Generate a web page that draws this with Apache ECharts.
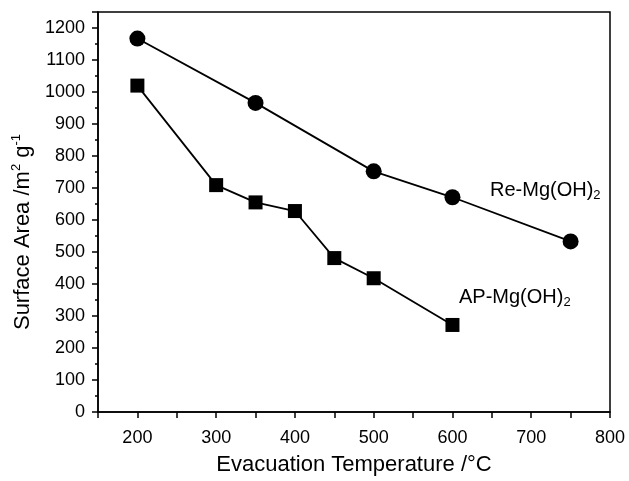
<!DOCTYPE html>
<html>
<head>
<meta charset="utf-8">
<script src="https://cdn.jsdelivr.net/npm/echarts@6/dist/echarts.min.js"></script>
<style>html,body{margin:0;padding:0;background:#fff}#c{width:629px;height:481px}</style>
</head>
<body>
<div id="c"></div>
<script>
const reTemps = [200, 350, 500, 600, 750];
const reArea = [1167, 966, 752, 671, 533];
const apTemps = [200, 300, 350, 400, 450, 500, 600];
const apArea = [1020, 709, 655, 628, 481, 418, 272];
const xTicks = [200, 300, 400, 500, 600, 700, 800];
const yTicks = [0, 100, 200, 300, 400, 500, 600, 700, 800, 900, 1000, 1100, 1200];

const FONT = 'Liberation Sans, Arial, sans-serif';
const chart = echarts.init(document.getElementById('c'), null, {renderer: 'canvas'});
const axisCommon = {
  axisLine: {show: true, onZero: false, lineStyle: {color: '#000', width: 1.5}},
  axisTick: {show: true, inside: false, length: 6, lineStyle: {color: '#000', width: 1.5}},
  minorTick: {show: true, splitNumber: 2, length: 3, lineStyle: {color: '#000', width: 1.5}},
  splitLine: {show: false},
  axisLabel: {color: '#000', fontFamily: FONT, fontSize: 18}
};
chart.setOption({
  animation: false,
  backgroundColor: '#fff',
  grid: {left: 98, right: 19, top: 12, bottom: 68, show: true, borderColor: '#000', borderWidth: 1.5, backgroundColor: 'transparent'},
  xAxis: Object.assign({}, axisCommon, {
    type: 'value', min: 150, max: 800, interval: 50,
    axisLabel: Object.assign({}, axisCommon.axisLabel, {margin: 17,
      formatter: v => xTicks.includes(v) ? String(v) : ''}),
    minorTick: {show: false},
    name: 'Evacuation Temperature /°C', nameLocation: 'middle', nameGap: 42,
    nameTextStyle: {color: '#000', fontFamily: FONT, fontSize: 22}
  }),
  yAxis: Object.assign({}, axisCommon, {
    type: 'value', min: 0, max: 1250, interval: 100,
    axisLabel: Object.assign({}, axisCommon.axisLabel, {margin: 13,
      formatter: v => yTicks.includes(v) ? String(v) : ''}),
    name: '{a|Surface Area /m}{s|2}{a| g}{s|-1}', nameLocation: 'middle', nameGap: 54,
    nameTextStyle: {color: '#000', fontFamily: FONT, fontSize: 22, padding: [0, 40, 0, 0],
      rich: {a: {fontFamily: FONT, fontSize: 22, color: '#000'},
             s: {fontFamily: FONT, fontSize: 13, color: '#000', padding: [0, 0, 13, 0]}}}
  }),
  series: [
    {type: 'line', data: reTemps.map((t, i) => [t, reArea[i]]), symbol: 'circle', symbolSize: 16,
     itemStyle: {color: '#000'}, lineStyle: {color: '#000', width: 1.8}},
    {type: 'line', data: apTemps.map((t, i) => [t, apArea[i]]), symbol: 'rect', symbolSize: 14,
     itemStyle: {color: '#000'}, lineStyle: {color: '#000', width: 1.8}}
  ],
  graphic: [
    {type: 'text', left: 490, top: 180, style: {text: '{a|Re-Mg(OH)}{b|2}', rich: {
      a: {fontFamily: FONT, fontSize: 20, fill: '#000'},
      b: {fontFamily: FONT, fontSize: 13, fill: '#000', padding: [11, 0, 0, 0]}}}},
    {type: 'text', left: 459, top: 287, style: {text: '{a|AP-Mg(OH)}{b|2}', rich: {
      a: {fontFamily: FONT, fontSize: 20, fill: '#000'},
      b: {fontFamily: FONT, fontSize: 13, fill: '#000', padding: [11, 0, 0, 0]}}}}
  ]
});
</script>
</body>
</html>
